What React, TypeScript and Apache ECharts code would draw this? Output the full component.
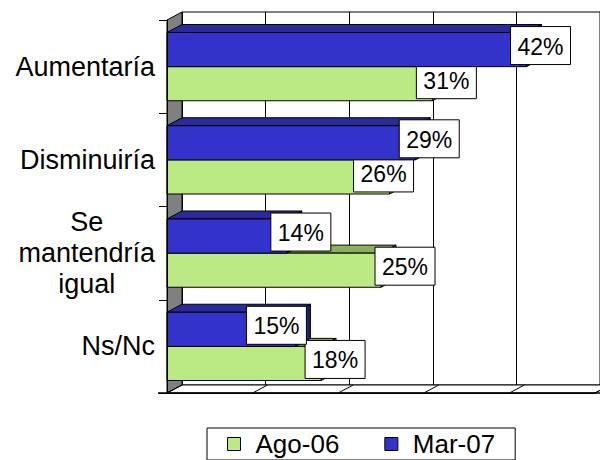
import React, { useEffect, useRef } from "react";
import * as echarts from "echarts";

const categories = ["Aumentaría", "Disminuiría", "Se\nmantendría\nigual", "Ns/Nc"];
const seriesNames = ["Ago-06", "Mar-07"];
const ago06 = [31, 26, 25, 18];
const mar07 = [42, 29, 14, 15];
const axisMin = 0;
const axisMax = 50;
const axisStep = 10;

// layout / style constants (not data)
const DX = 15;
const DY = -8;
const FONT = '"Liberation Sans", Arial, sans-serif';
const labelNudgeAgo = [0, -20, 10, 0];
const labelNudgeMar = [0, 0, 0, -33];

const COLORS = {
  ago: { front: "#BBEA84", top: "#8DB05A", side: "#6F8C45" },
  mar: { front: "#3333CC", top: "#2A2A9C", side: "#1C1C7A" },
};

function barRenderer(upper: boolean, col: any, nudge: number[]) {
  return (params: any, api: any) => {
    const val = api.value(0);
    const cat = api.value(1);
    const p0 = api.coord([0, cat]);
    const p1 = api.coord([val, cat]);
    const band = api.size([0, 1])[1];
    const bh = band * 0.366;
    const cy = p0[1];
    const yt = upper ? cy - bh : cy;
    const yb = yt + bh;
    const x0 = p0[0];
    const x1 = p1[0];
    const stroke = { stroke: "#000", lineWidth: 1 };
    const lx = x1 + 14 + (nudge[params.dataIndex] || 0);
    const ly = (yt + yb) / 2 - 4;
    const bw = 60;
    const bhL = 38;
    return {
      type: "group",
      children: [
        {
          type: "polygon",
          shape: { points: [[x0, yt], [x1, yt], [x1 + DX, yt + DY], [x0 + DX, yt + DY]] },
          style: { fill: col.top, ...stroke },
        },
        {
          type: "polygon",
          shape: { points: [[x1, yt], [x1 + DX, yt + DY], [x1 + DX, yb + DY], [x1, yb]] },
          style: { fill: col.side, ...stroke },
        },
        {
          type: "rect",
          shape: { x: x0, y: yt, width: x1 - x0, height: bh },
          style: { fill: col.front, ...stroke },
        },
        {
          type: "rect",
          z2: 100,
          shape: { x: lx - bw / 2, y: ly - bhL / 2, width: bw, height: bhL },
          style: { fill: "#fff", stroke: "#000", lineWidth: 1 },
        },
        {
          type: "text",
          z2: 101,
          x: lx,
          y: ly + 1,
          style: {
            text: val + "%",
            fill: "#000",
            font: "23px " + FONT,
            align: "center",
            verticalAlign: "middle",
            textAlign: "center",
            textVerticalAlign: "middle",
          },
        },
      ],
    };
  };
}

function frameRenderer(params: any, api: any) {
  const band = api.size([0, 1])[1];
  const x0 = api.coord([axisMin, 0])[0];
  const xMax = api.coord([axisMax, 0])[0];
  const yTop = api.coord([axisMin, 0])[1] - band / 2;
  const yBot = api.coord([axisMin, categories.length - 1])[1] + band / 2;
  const children: any[] = [
    {
      type: "polygon",
      shape: { points: [[x0, yTop], [x0 + DX, yTop + DY], [x0 + DX, yBot + DY], [x0, yBot]] },
      style: { fill: "#808080", stroke: "#000", lineWidth: 1 },
    },
    {
      type: "polygon",
      shape: { points: [[x0, yBot], [xMax, yBot], [xMax + DX, yBot + DY], [x0 + DX, yBot + DY]] },
      style: { fill: "#fff", stroke: "#000", lineWidth: 1 },
    },
  ];
  for (let v = axisMin; v <= axisMax; v += axisStep) {
    const x = api.coord([v, 0])[0];
    children.push({
      type: "line",
      shape: { x1: x, y1: yBot, x2: x + DX, y2: yBot + DY },
      style: { stroke: "#000", lineWidth: 1 },
    });
  }
  children.push({
    type: "line",
    shape: { x1: x0 - 9, y1: yBot, x2: xMax + 5, y2: yBot },
    style: { stroke: "#000", lineWidth: 1.5 },
  });
  return { type: "group", children };
}

export default function App() {
  const ref = useRef<HTMLDivElement>(null);
  useEffect(() => {
    if (!ref.current) return;
    const chart = echarts.init(ref.current, undefined, { renderer: "svg" });
    const catIdx = categories.map((_, i) => i);
    chart.setOption({
      animation: false,
      backgroundColor: "#fff",
      textStyle: { fontFamily: FONT },
      grid: [
        { left: 167, top: 20, width: 428, height: 373, containLabel: false },
        {
          left: 167 + DX,
          top: 20 + DY,
          width: 428,
          height: 373,
          show: true,
          backgroundColor: "#fff",
          borderColor: "#000",
          borderWidth: 1,
          z: 0,
        },
      ],
      xAxis: [
        {
          type: "value",
          gridIndex: 0,
          min: axisMin,
          max: axisMax,
          interval: axisStep,
          axisLine: { show: true, lineStyle: { color: "#000", width: 1 } },
          axisTick: { show: false },
          axisLabel: { show: false },
          splitLine: { show: false },
        },
        {
          type: "value",
          gridIndex: 1,
          min: axisMin,
          max: axisMax,
          interval: axisStep,
          axisLine: { show: false },
          axisTick: { show: false },
          axisLabel: { show: false },
          splitLine: { show: true, lineStyle: { color: "#000", width: 1 } },
        },
      ],
      yAxis: [
        {
          type: "category",
          gridIndex: 0,
          data: categories,
          inverse: true,
          axisLine: { show: true, lineStyle: { color: "#000", width: 1 } },
          axisTick: { show: true, length: 8, lineStyle: { color: "#000" } },
          axisLabel: {
            color: "#000",
            fontSize: 27,
            lineHeight: 31,
            margin: 12,
            align: "right",
            fontFamily: FONT,
            formatter: (v: string) =>
              v
                .split("\n")
                .map((s) => "{c|" + s + "}")
                .join("\n"),
            rich: {
              c: {
                align: "center",
                fontSize: 27,
                lineHeight: 31,
                color: "#000",
                fontFamily: FONT,
              },
            },
          },
          splitLine: { show: false },
          z: 5,
        },
        {
          type: "value",
          gridIndex: 1,
          show: false,
          splitLine: { show: false },
        },
      ],
      legend: {
        data: seriesNames,
        left: 207,
        top: 428,
        orient: "horizontal",
        icon: "rect",
        itemWidth: 13,
        itemHeight: 13,
        itemGap: 45,
        padding: [3, 20, 3, 20],
        borderColor: "#000",
        borderWidth: 1,
        itemStyle: { borderColor: "#000", borderWidth: 1 },
        textStyle: { fontSize: 26, color: "#000", fontFamily: FONT, padding: [0, 0, 0, 10] },
      },
      series: [
        {
          type: "custom",
          name: "frame",
          xAxisIndex: 0,
          yAxisIndex: 0,
          silent: true,
          z: 1,
          renderItem: frameRenderer,
          encode: { x: 0, y: 1 },
          data: [[0, 0]],
        },
        {
          type: "custom",
          name: seriesNames[0],
          xAxisIndex: 0,
          yAxisIndex: 0,
          z: 2,
          itemStyle: { color: COLORS.ago.front, borderColor: "#000", borderWidth: 1 },
          renderItem: barRenderer(false, COLORS.ago, labelNudgeAgo),
          encode: { x: 0, y: 1 },
          data: ago06.map((v, i) => [v, catIdx[i]]),
        },
        {
          type: "custom",
          name: seriesNames[1],
          xAxisIndex: 0,
          yAxisIndex: 0,
          z: 3,
          itemStyle: { color: COLORS.mar.front, borderColor: "#000", borderWidth: 1 },
          renderItem: barRenderer(true, COLORS.mar, labelNudgeMar),
          encode: { x: 0, y: 1 },
          data: mar07.map((v, i) => [v, catIdx[i]]),
        },
      ],
    });
    return () => chart.dispose();
  }, []);
  return (
    <div
      ref={ref}
      style={{ position: "fixed", left: 0, top: 0, width: 600, height: 460 }}
    />
  );
}
